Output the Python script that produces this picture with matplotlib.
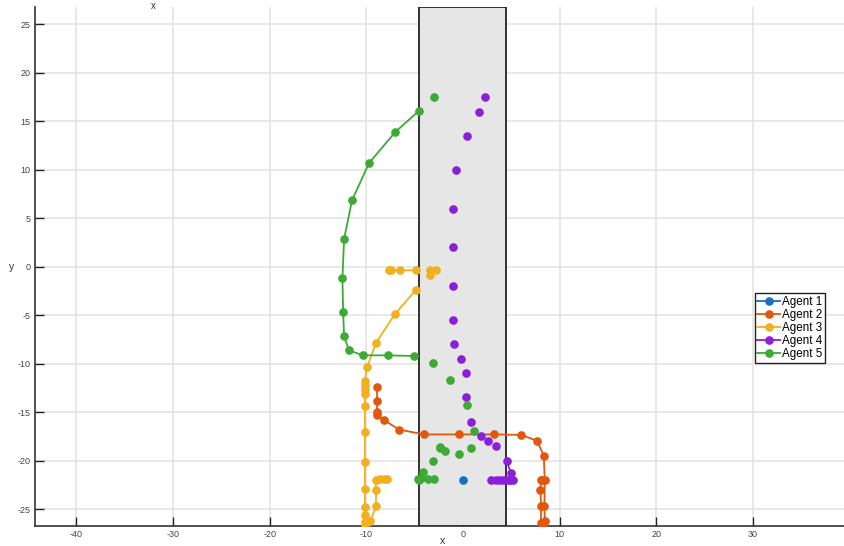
import numpy as np
import matplotlib
matplotlib.use('Agg')
import matplotlib.pyplot as plt
from matplotlib.patches import Rectangle

plt.rcParams['font.family'] = ['Liberation Sans', 'DejaVu Sans']
plt.rcParams['axes.unicode_minus'] = False

nan = np.nan

# Agent trajectories (NaN = gap in the drawn line)
agent1_x = [0.0]
agent1_y = [-22.0]

agent2_x = [-8.89, -8.89, -8.89, -8.89, -8.2, -6.62, -4.03, -0.44, 3.2, 6.0, 7.65, 8.35,
            8.45, 8.42, 8.45, 8.3, 8.05, 8.07, 8.0, 8.07, 8.2]
agent2_y = [-12.4, -13.85, -14.95, -15.3, -15.8, -16.8, -17.3, -17.3, -17.3, -17.35, -17.95, -19.5,
            -22.0, -24.7, -26.2, -26.6, -26.4, -24.7, -23.07, -22.0, -22.0]

agent3_x = [-7.7, -7.4, -6.55, -4.86, nan, -3.37, nan, -2.82, nan, -3.37, nan,
            -4.86, -7.06, -9.0, -9.93, -10.15, -10.15, -10.15, -10.15, -10.15, -10.15,
            -10.15, -10.15, -10.15, -10.15, -10.15, -10.1, -9.6, -9.0, -9.0, -9.05,
            -8.6, -8.2, -7.9]
agent3_y = [-0.37, -0.37, -0.37, -0.37, nan, -0.37, nan, -0.37, nan, -0.89, nan,
            -2.37, -4.91, -7.87, -10.38, -11.8, -12.2, -12.65, -13.1, -14.4, -17.0,
            -20.1, -22.9, -24.77, -25.6, -26.3, -26.6, -26.25, -24.73, -23.0, -22.0,
            -21.95, -21.9, -21.9]

agent4_x = [2.24, nan, 1.65, nan, 0.45, nan, -0.72, nan, -1.03, nan, -1.03, nan, -1.03, nan,
            -1.03, nan, -0.93, nan, -0.2, nan, 0.31, nan, 0.35, nan, 0.83, nan, 1.86, nan,
            2.59, nan, 3.41, nan,
            4.5, 4.95, 5.2, 4.9, 4.6, 4.2, 3.8, 3.4, 2.9]
agent4_y = [17.47, nan, 16.0, nan, 13.5, nan, 10.0, nan, 6.0, nan, 2.0, nan, -2.0, nan,
            -5.5, nan, -8.0, nan, -9.5, nan, -11.0, nan, -13.47, nan, -16.0, nan, -17.5, nan,
            -18.0, nan, -18.5, nan,
            -20.0, -21.3, -22.0, -22.0, -22.0, -22.0, -22.0, -22.0, -22.0]

agent5_x = [-3.0, nan,
            -4.55, -7.0, -9.72, -11.48, -12.3, -12.47, -12.4, -12.3, -11.8, -10.34, -7.79, -5.07, nan,
            -3.1, nan, -1.3, nan, 0.4, nan, 1.14, nan, 0.85, nan, -0.42, nan, -1.85, nan,
            -2.41, nan, -2.4, nan, -3.08, nan, -4.14, nan, -4.3, nan, -4.65, nan, -4.6, nan,
            -3.6, nan, -3.0]
agent5_y = [17.5, nan,
            16.1, 13.9, 10.7, 6.85, 2.86, -1.13, -4.64, -7.15, -8.63, -9.14, -9.14, -9.21, nan,
            -9.9, nan, -11.65, nan, -14.3, nan, -16.97, nan, -18.67, nan, -19.37, nan, -19.0, nan,
            -18.75, nan, -18.55, nan, -20.0, nan, -21.22, nan, -21.8, nan, -21.85, nan, -22.0, nan,
            -21.95, nan, -21.95]

labels = ['Agent 1', 'Agent 2', 'Agent 3', 'Agent 4', 'Agent 5']
colors = ['#1a6fc4', '#e0580c', '#f0b020', '#8a1fd9', '#3caa35']

# obstacle corridor
rect_x0, rect_x1 = -4.6, 4.45
xlim = (-44.3, 39.5)
ylim = (-26.75, 26.8)

fig = plt.figure(figsize=(8.45, 5.46), dpi=100)
ax = fig.add_axes([0.041, 0.0366, 0.959, 0.9506])

ax.add_patch(Rectangle((rect_x0, ylim[0]), rect_x1 - rect_x0, ylim[1] - ylim[0],
                       facecolor='#e6e6e6', edgecolor='#222222', linewidth=1.3, zorder=1.5))

series = [(agent1_x, agent1_y), (agent2_x, agent2_y), (agent3_x, agent3_y),
          (agent4_x, agent4_y), (agent5_x, agent5_y)]
for (xs, ys), lab, col in zip(series, labels, colors):
    ax.plot(xs, ys, '-o', color=col, lw=1.3, ms=5.2, label=lab, zorder=3)

ax.set_xlim(*xlim)
ax.set_ylim(*ylim)
ax.set_xticks([-40, -30, -20, -10, 0, 10, 20, 30])
ax.set_yticks([-25, -20, -15, -10, -5, 0, 5, 10, 15, 20, 25])
ax.grid(True, color='#e2e2e2', linewidth=1.1)
ax.set_axisbelow(True)
ax.tick_params(direction='in', length=6.5, width=1, color='#222222',
               labelsize=6.5, labelcolor='#444444', pad=3)
for s in ['top', 'right']:
    ax.spines[s].set_visible(False)
for s in ['left', 'bottom']:
    ax.spines[s].set_color('#333333')
    ax.spines[s].set_linewidth(1.2)

fig.text(443 / 845, 1 - 541 / 546, 'x', fontsize=7.5, ha='center', va='center', color='#333333')
fig.text(12 / 845, 1 - 267 / 546, 'y', fontsize=7.5, ha='center', va='center', color='#333333')
fig.text(153 / 845, 0.999, 'x', fontsize=7, ha='center', va='top', color='#333333')

leg = ax.legend(loc='upper left', bbox_to_anchor=(0.893, 0.4628), bbox_transform=fig.transFigure,
                borderaxespad=0, fontsize=8.4, fancybox=False, framealpha=1, edgecolor='#222222',
                handlelength=2.0, handletextpad=0.15, labelspacing=0.1, borderpad=0.2)
leg.get_frame().set_linewidth(1.0)

plt.savefig('out.png', dpi=100)
